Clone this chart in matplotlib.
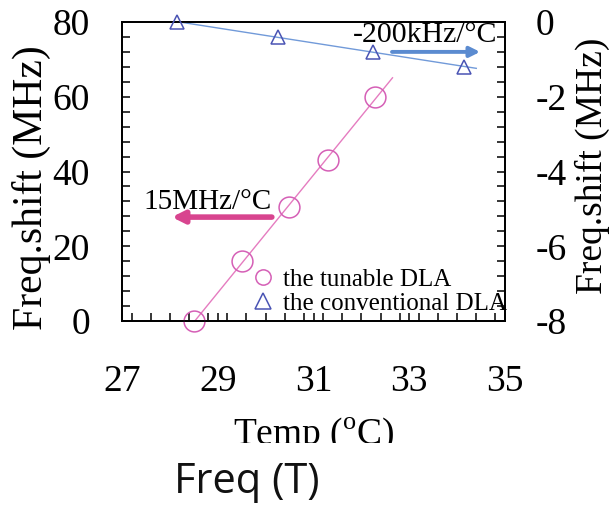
#!/usr/bin/env python3
import numpy as np
import matplotlib
matplotlib.use("Agg")
import matplotlib.pyplot as plt
from matplotlib.ticker import MultipleLocator
from matplotlib.lines import Line2D
from matplotlib.transforms import Bbox

# data
tunable_temp = [28.51, 29.51, 30.49, 31.30, 32.28]
tunable_shift = [0.0, 16.0, 30.5, 43.0, 60.0]          # MHz, left axis
conv_temp = [28.15, 30.25, 32.25, 34.15]
conv_shift = [0.0, -0.4, -0.8, -1.2]                    # MHz, right axis

tunable_fit_range = [28.5, 32.65]
conv_fit_range = [28.15, 34.4]

x_ticks = [27, 29, 31, 33, 35]
left_ticks = [0, 20, 40, 60, 80]
right_ticks = [-8, -6, -4, -2, 0]

PINK = "#d55fb6"
PINK_LINE = "#e57cc0"
PINK_ARROW = "#d8448f"
TRI = "#4a54b4"
BLUE_LINE = "#719ad9"
BLUE_ARROW = "#5b8bd0"

plt.rcParams["font.family"] = ["Liberation Serif", "DejaVu Serif"]
plt.rcParams["mathtext.fontset"] = "custom"
plt.rcParams["mathtext.rm"] = "Liberation Serif"
plt.rcParams["axes.unicode_minus"] = False


def fit_line(x, y, xr):
    k, b = np.polyfit(x, y, 1)
    xs = np.array(xr)
    return xs, k * xs + b


fig = plt.figure(figsize=(6.16, 5.05), dpi=100)
ax = fig.add_axes([122 / 616, 1 - 321 / 505, 383 / 616, 299 / 505])
ax2 = ax.twinx()

# tunable DLA (left axis)
xs, ys = fit_line(tunable_temp, tunable_shift, tunable_fit_range)
ax.plot(xs, ys, color=PINK_LINE, lw=1.0, zorder=2)
ax.plot(tunable_temp, tunable_shift, ls="none", marker="o", ms=15,
        mfc="none", mec=PINK, mew=1.1, zorder=3, clip_on=False)

# conventional DLA (right axis)
xs, ys = fit_line(conv_temp, conv_shift, conv_fit_range)
ax2.plot(xs, ys, color=BLUE_LINE, lw=1.0, zorder=2)
ax2.plot(conv_temp, conv_shift, ls="none", marker="^", ms=10.5,
         mfc="none", mec=TRI, mew=1.1, zorder=3, clip_on=False)

ax.set_xlim(27, 35)
ax.set_ylim(0, 80)
ax2.set_ylim(-8, 0)

ax.set_xticks(x_ticks)
ax.set_yticks(left_ticks)
ax2.set_yticks(right_ticks)
ax.xaxis.set_minor_locator(MultipleLocator(0.4))
ax.yaxis.set_minor_locator(MultipleLocator(4))
ax2.yaxis.set_minor_locator(MultipleLocator(0.4))

ax.tick_params(axis="x", which="both", direction="in", top=False,
               length=5.5, width=1.1, pad=31, labelsize=27)
ax.tick_params(axis="y", which="both", direction="in", right=False,
               length=6, width=1.1, pad=23, labelsize=27)
ax2.tick_params(axis="y", which="both", direction="in", left=False,
                length=6, width=1.1, pad=22, labelsize=27)
for a in (ax, ax2):
    for s in a.spines.values():
        s.set_linewidth(1.3)

# slope annotations
ax.annotate("", xy=(28.04, 27.8), xytext=(30.13, 27.8),
            arrowprops=dict(arrowstyle="-|>,head_length=0.7,head_width=0.35",
                            color=PINK_ARROW, lw=4, shrinkA=0, shrinkB=0))
ax.text(27.44, 31.8, "15MHz/°C", fontsize=21, ha="left", va="center")
ax.annotate("", xy=(34.48, 72.0), xytext=(32.64, 72.0),
            arrowprops=dict(arrowstyle="-|>,head_length=0.6,head_width=0.3",
                            color=BLUE_ARROW, lw=2.8, shrinkA=0, shrinkB=0))
ax.text(31.83, 76.5, "-200kHz/°C", fontsize=21.5, ha="left", va="center")

handles = [
    Line2D([], [], ls="none", marker="o", ms=11, mfc="none", mec=PINK, mew=1.1),
    Line2D([], [], ls="none", marker="^", ms=11, mfc="none", mec=TRI, mew=1.1),
]
ax2.legend(handles, ["the tunable DLA", "the conventional DLA"],
           loc="center left", bbox_to_anchor=((250.5 - 122) / 383, (321 - 291.5) / 299),
           frameon=False, fontsize=18, handlelength=1.0, handletextpad=0.3,
           labelspacing=0.05, borderpad=0, borderaxespad=0)

# axis labels
fig.text(31 / 616, 1 - 188 / 505, "Freq.shift (MHz)", rotation=90,
         fontsize=30, ha="center", va="center")
fig.text(592 / 616, 1 - 166 / 505, "Freq.shift (MHz)", rotation=90,
         fontsize=27, ha="center", va="center")
tl = fig.text(313.5 / 616, 1 - 444 / 505, r"Temp ($^{\rm o}$C)",
              fontsize=27, ha="center", va="baseline")
tl.set_clip_box(Bbox.from_extents(0, 505 - 443, 616, 505))
tl.set_clip_on(True)
fig.text(247 / 616, 1 - 493 / 505, "Freq (T)", fontsize=30,
         family=["Open Sans", "DejaVu Sans"], ha="center", va="baseline",
         color="#111111")

fig.savefig("out.png", dpi=100)
plt.close(fig)
